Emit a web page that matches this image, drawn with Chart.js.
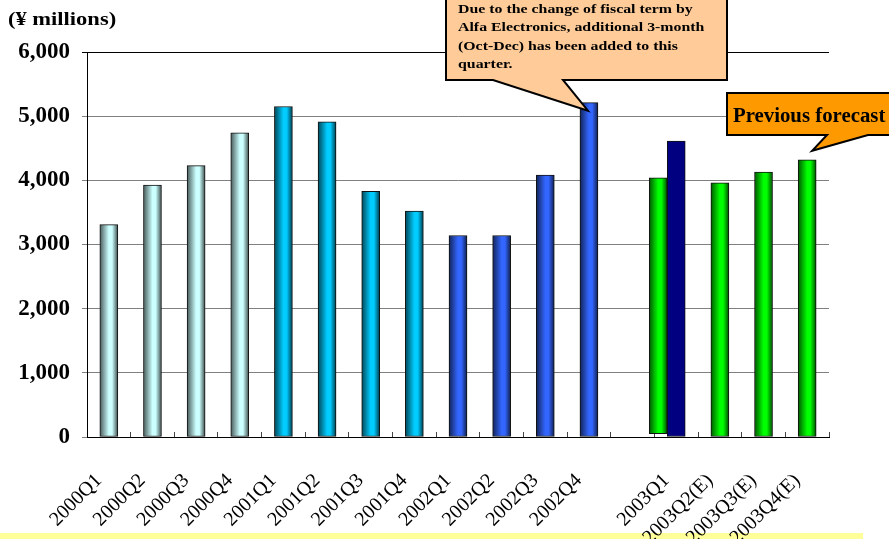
<!DOCTYPE html>
<html>
<head>
<meta charset="utf-8">
<script src="https://cdn.jsdelivr.net/npm/chart.js@4"></script>
<style>
  body { margin: 0; background: #fff; }
  #wrap { position: relative; width: 889px; height: 539px; }
</style>
</head>
<body>
<div id="wrap"><canvas id="sales-chart" width="889" height="539"></canvas></div>
<script>
// quarterly values in ¥ millions
const quarters = ['2000Q1', '2000Q2', '2000Q3', '2000Q4', '2001Q1', '2001Q2', '2001Q3', '2001Q4',
  '2002Q1', '2002Q2', '2002Q3', '2002Q4', '', '2003Q1', '2003Q2(E)', '2003Q3(E)', '2003Q4(E)'];
const sales = [3310, 3925, 4230, 4740, 5150, 4910, 3830, 3520, 3140, 3140, 4080, 5210, null, [50, 4040], 3960, 4130, 4320];
const previousForecast = [null, null, null, null, null, null, null, null, null, null, null, null, null, 4610, null, null, null];
// empty slot so the 2003Q1 pair sits left of the category centre, as in the original
const spacer = [null, null, null, null, null, null, null, null, null, null, null, null, null, 0, null, null, null];
const yTicks = [0, 1000, 2000, 3000, 4000, 5000, 6000];

const yearColors = { '2000': '#ccffff', '2001': '#00ccff', '2002': '#3366ff', '2003': '#00ff00' };
const serif = '"Liberation Serif", "Times New Roman", serif';

function darken(hex, f) {
  var n = parseInt(hex.slice(1), 16);
  var r = Math.round(((n >> 16) & 255) * f), g = Math.round(((n >> 8) & 255) * f), b = Math.round((n & 255) * f);
  return 'rgb(' + r + ',' + g + ',' + b + ')';
}

// cylinder-like fill, dark at both edges
function barFill(c, col) {
  var el = c.chart.getDatasetMeta(c.datasetIndex).data[c.dataIndex];
  if (!el || !el.width) return col;
  var g = c.chart.ctx.createLinearGradient(el.x - el.width / 2, 0, el.x + el.width / 2, 0);
  g.addColorStop(0, darken(col, 0.35));
  g.addColorStop(0.5, col);
  g.addColorStop(0.68, col);
  g.addColorStop(1, darken(col, 0.3));
  return g;
}

// the original text is a bit wider than Liberation Serif, so stretch it sideways
function wideText(ctx, t, x, y, sx) {
  ctx.save();
  ctx.translate(x, y);
  ctx.scale(sx, 1);
  ctx.fillText(t, 0, 0);
  ctx.restore();
}

const decorations = {
  id: 'decorations',
  beforeDraw(chart) {
    const ctx = chart.ctx;
    ctx.save();
    ctx.fillStyle = '#ffff99';
    ctx.fillRect(0, 533, 863, 6);
    ctx.restore();
  },
  afterDraw(chart) {
    const ctx = chart.ctx;
    const bars = chart.getDatasetMeta(0).data;
    ctx.save();
    ctx.fillStyle = '#000';
    ctx.font = 'bold 18px ' + serif;
    ctx.textBaseline = 'alphabetic';
    wideText(ctx, '(\u00a5 millions)', 8, 25, 1.25);

    // callout for 2002Q4
    var q4 = bars[11];
    callout(ctx, 446, -4, 727, 80, 493, 563, q4.x - 1, q4.y + 8, '#ffcc99');
    ctx.fillStyle = '#000';
    ctx.font = 'bold 13px ' + serif;
    ['Due to the change of fiscal term by', 'Alfa Electronics, additional 3-month',
      '(Oct-Dec) has been added to this', 'quarter.'].forEach(function (t, i) {
      wideText(ctx, t, 458, 13 + i * 18.3, 1.22);
    });

    // callout for previous forecast
    var f4 = bars[16];
    callout(ctx, 727, 93, 900, 135, 827, 868, f4.x + 5, f4.y - 9, '#ff9900');
    ctx.fillStyle = '#000';
    ctx.font = 'bold 20px ' + serif;
    wideText(ctx, 'Previous forecast', 733, 122, 1.04);
    ctx.restore();
  }
};

function callout(ctx, x1, y1, x2, y2, n1, n2, tx, ty, fill) {
  ctx.beginPath();
  ctx.moveTo(x1, y1);
  ctx.lineTo(x2, y1);
  ctx.lineTo(x2, y2);
  ctx.lineTo(n2, y2);
  ctx.lineTo(tx, ty);
  ctx.lineTo(n1, y2);
  ctx.lineTo(x1, y2);
  ctx.closePath();
  ctx.fillStyle = fill;
  ctx.fill();
  ctx.lineWidth = 2;
  ctx.strokeStyle = '#000';
  ctx.stroke();
}

const chart = new Chart(document.getElementById('sales-chart'), {
  type: 'bar',
  data: {
    labels: quarters,
    datasets: [{
      label: 'Net sales',
      data: sales,
      backgroundColor: function (c) { return barFill(c, yearColors[quarters[c.dataIndex].slice(0, 4)] || '#00ff00'); },
      borderColor: '#111',
      borderWidth: 1,
      borderSkipped: false,
      barThickness: 18
    }, {
      label: 'Previous forecast',
      data: previousForecast,
      backgroundColor: '#000080',
      borderColor: '#111',
      borderWidth: 1,
      borderSkipped: false,
      barThickness: 18
    }, {
      label: '',
      data: spacer,
      backgroundColor: 'rgba(0,0,0,0)',
      borderWidth: 0,
      barThickness: 18
    }]
  },
  options: {
    responsive: false,
    devicePixelRatio: 1,
    animation: false,
    skipNull: true,
    layout: { padding: { left: 0, right: 60, top: 52, bottom: 0 } },
    plugins: { legend: { display: false }, tooltip: { enabled: false } },
    scales: {
      x: {
        afterFit: function (s) { s.height = 102; },
        grid: { offset: true, drawOnChartArea: false, tickLength: -5, color: '#444' },
        border: { color: '#000', width: 1 },
        ticks: {
          autoSkip: false, minRotation: 45, maxRotation: 45, padding: 37, labelOffset: -10,
          color: '#000', font: { family: serif, size: 20 }
        }
      },
      y: {
        min: 0, max: 6000,
        afterFit: function (s) { s.width = 87; },
        afterBuildTicks: function (s) { s.ticks = yTicks.map(function (v) { return { value: v }; }); },
        grid: {
          tickLength: 5,
          color: function (c) { return c.tick && c.tick.value === 6000 ? '#000' : '#808080'; }
        },
        border: { color: '#000', width: 1 },
        ticks: {
          padding: 12, color: '#000', font: { family: serif, size: 23, weight: 'bold' },
          callback: function (v) { return v.toLocaleString('en-US'); }
        }
      }
    }
  },
  plugins: [decorations]
});
chart.update();
</script>
</body>
</html>
